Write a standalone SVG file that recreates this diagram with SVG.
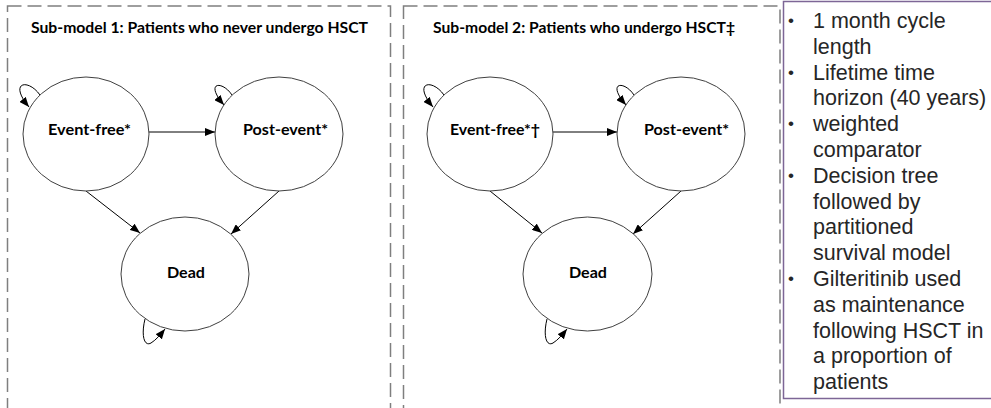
<svg xmlns="http://www.w3.org/2000/svg" width="991" height="408" viewBox="0 0 991 408">
<style>
.frame{fill:none;stroke:#7f7f7f;stroke-width:1.5;stroke-dasharray:14 6}
.state{fill:#ffffff;stroke:#404040;stroke-width:1}
.lbl{font-family:Lato,"Liberation Sans",sans-serif;font-weight:700;font-size:16px;fill:#000}
.ttl{font-family:Lato,"Liberation Sans",sans-serif;font-weight:700;font-size:16px;fill:#000}
.edge{fill:none;stroke:#000;stroke-width:1}
.notes{font-family:"Liberation Sans",Arial,sans-serif;font-size:21.5px;fill:#262626}
.bul{font-size:17px}
</style>
<defs>
<marker id="ah" markerUnits="userSpaceOnUse" markerWidth="10" markerHeight="8" refX="10" refY="4" orient="auto">
<path d="M0,0 L10,4 L0,8 z" fill="#000"/>
</marker>
</defs>
<rect width="991" height="408" fill="#ffffff"/>
<g id="frame-submodel-1">
<rect class="frame" x="7.5" y="6" width="383" height="420"/>
<text class="ttl" x="31" y="33" textLength="337" lengthAdjust="spacingAndGlyphs">Sub-model 1: Patients who never undergo HSCT</text>
</g>
<g id="frame-submodel-2">
<rect class="frame" x="403.5" y="6" width="376.5" height="420"/>
<text class="ttl" x="433" y="33" textLength="302" lengthAdjust="spacingAndGlyphs">Sub-model 2: Patients who undergo HSCT‡</text>
</g>
<g id="connectors">
<path class="edge" marker-end="url(#ah)" d="M149,132 L215,132"/>
<path class="edge" marker-end="url(#ah)" d="M86,191 L140,233"/>
<path class="edge" marker-end="url(#ah)" d="M279,191 L231,234"/>
<path class="edge" marker-end="url(#ah)" d="M40,95 C28,78 8,82 29,107"/>
<path class="edge" marker-end="url(#ah)" d="M232,95 C222,80 204,82 224,105"/>
<path class="edge" marker-end="url(#ah)" d="M145,319 C141,335 144,347 151,343 C156,340 161,334 165,329"/>
<path class="edge" marker-end="url(#ah)" d="M553,132 L617,132"/>
<path class="edge" marker-end="url(#ah)" d="M490,191 L542,233"/>
<path class="edge" marker-end="url(#ah)" d="M681,191 L633,234"/>
<path class="edge" marker-end="url(#ah)" d="M444,95 C432,78 412,82 433,107"/>
<path class="edge" marker-end="url(#ah)" d="M634,95 C624,80 606,82 626,105"/>
<path class="edge" marker-end="url(#ah)" d="M547,319 C543,335 546,347 553,343 C558,340 563,334 567,329"/>
</g>
<g id="s1-event-free">
<ellipse class="state" cx="86" cy="134" rx="63" ry="57"/>
<text class="lbl" x="48" y="135" textLength="83" lengthAdjust="spacingAndGlyphs">Event-free*</text>
</g>
<g id="s1-post-event">
<ellipse class="state" cx="279" cy="134" rx="64" ry="57"/>
<text class="lbl" x="243" y="135" textLength="85" lengthAdjust="spacingAndGlyphs">Post-event*</text>
</g>
<g id="s1-dead">
<ellipse class="state" cx="185" cy="274" rx="64" ry="57"/>
<text class="lbl" x="167" y="278" textLength="38" lengthAdjust="spacingAndGlyphs">Dead</text>
</g>
<g id="s2-event-free">
<ellipse class="state" cx="490" cy="134" rx="63" ry="57"/>
<text class="lbl" x="450" y="135" textLength="90" lengthAdjust="spacingAndGlyphs">Event-free*†</text>
</g>
<g id="s2-post-event">
<ellipse class="state" cx="681" cy="134" rx="64" ry="57"/>
<text class="lbl" x="644" y="135" textLength="85" lengthAdjust="spacingAndGlyphs">Post-event*</text>
</g>
<g id="s2-dead">
<ellipse class="state" cx="587.5" cy="274" rx="64.5" ry="57"/>
<text class="lbl" x="569" y="278" textLength="38" lengthAdjust="spacingAndGlyphs">Dead</text>
</g>
<g id="notes">
<rect x="783.5" y="1.5" width="220" height="397" fill="none" stroke="#7d6696" stroke-width="1.5"/>
<g class="notes">
<text class="bul" x="788" y="26">•</text>
<text x="813" y="28">1 month cycle</text>
<text x="813" y="53.8">length</text>
<text class="bul" x="788" y="77.6">•</text>
<text x="813" y="79.6">Lifetime time</text>
<text x="813" y="105.4">horizon (40 years)</text>
<text class="bul" x="788" y="129.2">•</text>
<text x="813" y="131.2">weighted</text>
<text x="813" y="157">comparator</text>
<text class="bul" x="788" y="180.8">•</text>
<text x="813" y="182.8">Decision tree</text>
<text x="813" y="208.6">followed by</text>
<text x="813" y="234.4">partitioned</text>
<text x="813" y="260.2">survival model</text>
<text class="bul" x="788" y="284">•</text>
<text x="813" y="286">Gilteritinib used</text>
<text x="813" y="311.8">as maintenance</text>
<text x="813" y="337.6">following HSCT in</text>
<text x="813" y="363.4">a proportion of</text>
<text x="813" y="389.2">patients</text>
</g>
</g>
</svg>
